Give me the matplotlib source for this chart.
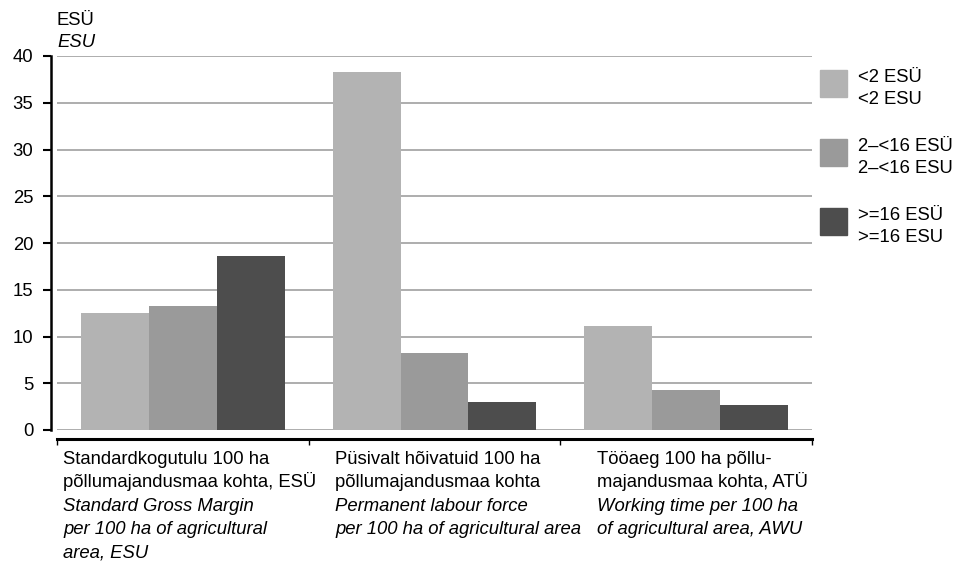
import numpy as np
import matplotlib
matplotlib.use("Agg")
import matplotlib.pyplot as plt
from matplotlib.patches import Rectangle

plt.rcParams['font.family'] = ['Liberation Sans', 'DejaVu Sans']
FS = 13.3

# andmed / data
groups = ["<2 ESÜ\n<2 ESU", "2–<16 ESÜ\n2–<16 ESU", ">=16 ESÜ\n>=16 ESU"]
sgm = [12.5, 13.3, 18.6]        # standardkogutulu 100 ha kohta
labour = [38.3, 8.2, 3.0]       # püsivalt hõivatuid 100 ha kohta
worktime = [11.1, 4.3, 2.7]     # tööaeg 100 ha kohta
colors = ['#b3b3b3', '#9a9a9a', '#4d4d4d']

cat_et = [["Standardkogutulu 100 ha", "põllumajandusmaa kohta, ESÜ"],
          ["Püsivalt hõivatuid 100 ha", "põllumajandusmaa kohta"],
          ["Tööaeg 100 ha põllu-", "majandusmaa kohta, ATÜ"]]
cat_en = [["Standard Gross Margin", "per 100 ha of agricultural", "area, ESU"],
          ["Permanent labour force", "per 100 ha of agricultural area"],
          ["Working time per 100 ha", "of agricultural area, AWU"]]

W, H = 962, 563
fig = plt.figure(figsize=(W / 100, H / 100), dpi=100)
ax = fig.add_axes([57 / W, 1 - 430 / H, (812 - 57) / W, (430 - 56) / H])

values = np.array([sgm, labour, worktime]).T   # rows = size classes
x = np.arange(3)
bw = 0.27
for i in range(3):
    ax.bar(x + (i - 1) * bw, values[i], width=bw, color=colors[i], zorder=2)

ax.set_xlim(-0.5, 2.5)
ax.set_ylim(0, 40)
ax.set_yticks(range(0, 41, 5))
ax.yaxis.grid(True, color='#a0a0a0', lw=1.2)
ax.set_axisbelow(True)

ax.spines['top'].set_visible(False)
ax.spines['right'].set_visible(False)
ax.spines['left'].set_position(('outward', 4.3))
ax.spines['left'].set_linewidth(1.8)
ax.spines['bottom'].set_position(('outward', 6.8))
ax.spines['bottom'].set_linewidth(2.2)

ax.set_xticks([-0.5, 0.5, 1.5, 2.5])
ax.set_xticklabels([])
ax.tick_params(axis='x', direction='out', length=4.5, width=1)
ax.tick_params(axis='y', direction='out', length=5.8, width=1.5,
               pad=7, labelsize=FS)

def px(xp, yp):
    return xp / W, 1 - yp / H

# y-telje ühik
fig.text(*px(57, 25), "ESÜ", fontsize=FS, va='baseline')
fig.text(*px(57, 47), "ESU", fontsize=FS, va='baseline', style='italic')

# kategooriate nimed
text_x = [63, 335, 597]
step = 23.3
for k in range(3):
    lines = [(t, 'normal') for t in cat_et[k]] + [(t, 'italic') for t in cat_en[k]]
    for j, (t, st) in enumerate(lines):
        fig.text(*px(text_x[k], 464 + j * step), t, fontsize=FS,
                 va='baseline', style=st)

# legend
box_top = [70, 139, 208]
for i in range(3):
    fig.patches.append(Rectangle(px(820, box_top[i] + 27), 27 / W, 27 / H,
                                 transform=fig.transFigure, color=colors[i]))
    l1, l2 = groups[i].split("\n")
    fig.text(*px(858, box_top[i] + 12), l1, fontsize=FS, va='baseline')
    fig.text(*px(858, box_top[i] + 34), l2, fontsize=FS, va='baseline')

fig.savefig("out.png", dpi=100)
